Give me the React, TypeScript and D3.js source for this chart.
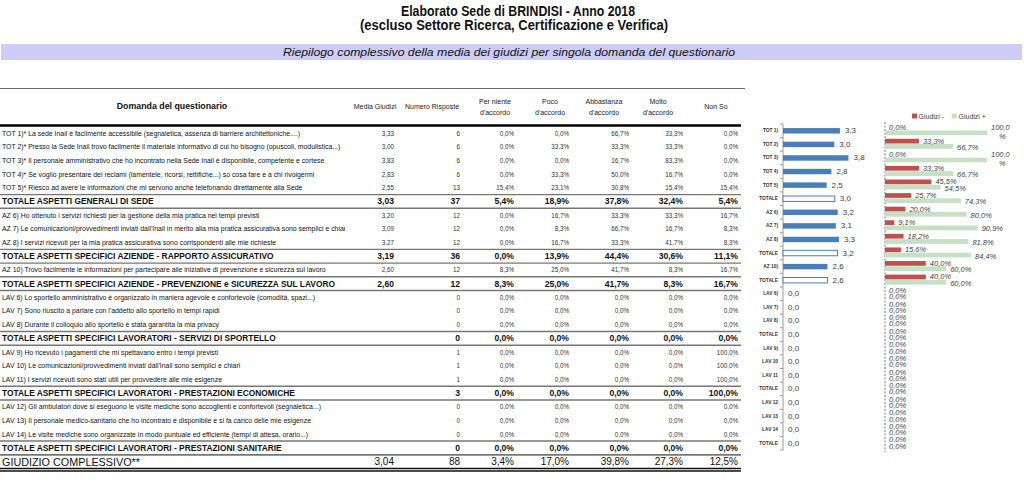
import React from "react";
import * as d3 from "d3";

const questions = [
  "TOT 1)* La sede Inail è facilmente accessibile (segnaletica, assenza di barriere architettoniche....)",
  "TOT 2)* Presso la Sede Inail trovo facilmente il materiale informativo di cui ho bisogno (opuscoli, modulistica...)",
  "TOT 3)* Il personale amministrativo che ho incontrato nella Sede Inail  è  disponibile, competente e cortese",
  "TOT 4)* Se voglio presentare dei reclami (lamentele, ricorsi, rettifiche...) so cosa fare e a chi rivolgermi",
  "TOT 5)* Riesco ad avere le informazioni che mi servono anche telefonando direttamente alla Sede",
  "TOTALE ASPETTI GENERALI DI SEDE",
  "AZ 6) Ho ottenuto i servizi richiesti per la gestione della mia pratica nei tempi previsti",
  "AZ 7) Le comunicazioni/provvedimenti inviati dall'Inail in merito alla mia pratica assicurativa sono semplici e chiari",
  "AZ 8) I servizi ricevuti per la mia pratica assicurativa sono corrispondenti alle mie richieste",
  "TOTALE ASPETTI SPECIFICI AZIENDE - RAPPORTO ASSICURATIVO",
  "AZ 10) Trovo facilmente le informazioni per partecipare alle iniziative di prevenzione e sicurezza sul lavoro",
  "TOTALE ASPETTI SPECIFICI AZIENDE - PREVENZIONE e SICUREZZA SUL LAVORO",
  "LAV 6) Lo sportello amministrativo è organizzato in maniera agevole e confortevole (comodità, spazi...)",
  "LAV 7) Sono riuscito a parlare con l'addetto allo sportello in tempi rapidi",
  "LAV 8) Durante il colloquio allo sportello è stata garantita la mia privacy",
  "TOTALE ASPETTI SPECIFICI LAVORATORI - SERVIZI DI SPORTELLO",
  "LAV 9) Ho ricevuto i pagamenti che mi spettavano entro i tempi previsti",
  "LAV 10) Le comunicazioni/provvedimenti inviati dall'Inail sono semplici e chiari",
  "LAV 11) I servizi ricevuti sono stati utili per provvedere alle mie esigenze",
  "TOTALE ASPETTI SPECIFICI LAVORATORI - PRESTAZIONI ECONOMICHE",
  "LAV 12) Gli ambulatori dove si eseguono le visite mediche sono accoglienti e confortevoli (segnaletica...)",
  "LAV 13) Il personale medico-sanitario che ho incontrato è disponibile e si fa carico delle mie esigenze",
  "LAV 14) Le visite mediche sono organizzate in modo puntuale ed efficiente (tempi di attesa, orario...)",
  "TOTALE ASPETTI SPECIFICI LAVORATORI - PRESTAZIONI SANITARIE",
  "GIUDIZIO COMPLESSIVO**",
];

const rowKind = [
  "q", "q", "q", "q", "q", "t",
  "q", "q", "q", "t",
  "q", "t",
  "q", "q", "q", "t",
  "q", "q", "q", "t",
  "q", "q", "q", "t",
  "g",
];

const mediaGiudizi = [
  "3,33", "3,00", "3,83", "2,83", "2,55", "3,03",
  "3,20", "3,09", "3,27", "3,19",
  "2,60", "2,60",
  "", "", "", "",
  "", "", "", "",
  "", "", "", "",
  "3,04",
];

const numeroRisposte = [6, 6, 6, 6, 13, 37, 12, 12, 12, 36, 12, 12, 0, 0, 0, 0, 1, 1, 1, 3, 0, 0, 0, 0, 88];
const perNiente = [0, 0, 0, 0, 15.4, 5.4, 0, 0, 0, 0, 8.3, 8.3, 0, 0, 0, 0, 0, 0, 0, 0, 0, 0, 0, 0, 3.4];
const poco = [0, 33.3, 0, 33.3, 23.1, 18.9, 16.7, 8.3, 16.7, 13.9, 25.0, 25.0, 0, 0, 0, 0, 0, 0, 0, 0, 0, 0, 0, 0, 17.0];
const abbastanza = [66.7, 33.3, 16.7, 50.0, 30.8, 37.8, 33.3, 66.7, 33.3, 44.4, 41.7, 41.7, 0, 0, 0, 0, 0, 0, 0, 0, 0, 0, 0, 0, 39.8];
const molto = [33.3, 33.3, 83.3, 16.7, 15.4, 32.4, 33.3, 16.7, 41.7, 30.6, 8.3, 8.3, 0, 0, 0, 0, 0, 0, 0, 0, 0, 0, 0, 0, 27.3];
const nonSo = [0, 0, 0, 0, 15.4, 5.4, 16.7, 8.3, 8.3, 11.1, 16.7, 16.7, 0, 0, 0, 0, 100, 100, 100, 100, 0, 0, 0, 0, 12.5];

const headers = [
  ["Media Giudizi"],
  ["Numero Risposte"],
  ["Per niente", "d'accordo"],
  ["Poco", "d'accordo"],
  ["Abbastanza", "d'accordo"],
  ["Molto", "d'accordo"],
  ["Non So"],
];

const chartCategories = [
  "TOT 1)", "TOT 2)", "TOT 3)", "TOT 4)", "TOT 5)", "TOTALE",
  "AZ 6)", "AZ 7)", "AZ 8)", "TOTALE",
  "AZ 10)", "TOTALE",
  "LAV 6)", "LAV 7)", "LAV 8)", "TOTALE",
  "LAV 9)", "LAV 10", "LAV 11", "TOTALE",
  "LAV 12", "LAV 13", "LAV 14", "TOTALE",
];
const chartMedia = [3.33, 3.0, 3.83, 2.83, 2.55, 3.03, 3.2, 3.09, 3.27, 3.19, 2.6, 2.6, 0, 0, 0, 0, 0, 0, 0, 0, 0, 0, 0, 0];
const giudiziNeg = [0, 33.3, 0, 33.3, 45.5, 25.7, 20.0, 9.1, 18.2, 15.6, 40.0, 40.0, 0, 0, 0, 0, 0, 0, 0, 0, 0, 0, 0, 0];
const giudiziPos = [100, 66.7, 100, 66.7, 54.5, 74.3, 80.0, 90.9, 81.8, 84.4, 60.0, 60.0, 0, 0, 0, 0, 0, 0, 0, 0, 0, 0, 0, 0];
const legendLabels = ["Giudizi -", "Giudizi +"];

const FONT = "'Liberation Sans', Arial, sans-serif";
const BLUE = "#4a7ebb";
const RED = "#c0504d";
const GREEN = "#c6e0c4";
const TXT = "#404040";

const fmt1 = (v: number) => d3.format(".1f")(v).replace(".", ",");
const pct = (v: number) => fmt1(v) + "%";

export default function App() {
  const W = 1024;
  const H = 488;
  const rowY = d3.scaleLinear().domain([0, questions.length - 1]).range([133, 461.6]);
  const rowH = 13.7;
  const tableRight = 741;
  const colRight = [394, 460, 514, 569, 629, 683, 738];
  const colHead = [375, 432, 495, 550, 604, 658, 716];

  const idx = d3.range(chartCategories.length);
  const yB = d3.scaleBand<number>().domain(idx).range([124, 450]).paddingInner(0.6).paddingOuter(0.3);
  const xL = d3.scaleLinear().domain([0, 5]).range([783, 868.5]);
  const xR = d3.scaleLinear().domain([0, 100]).range([885, 987]);
  const sub = d3.scaleBand<string>().domain(["neg", "pos"]).range([-5.6, 4.4]).paddingInner(0.1);
  const cy = (i: number) => (yB(i) as number) + yB.bandwidth() / 2;

  const totalIdx = rowKind.map((k, i) => (k !== "q" ? i : -1)).filter((i) => i >= 0);

  return (
    <svg width={W} height={H} style={{ position: "absolute", left: 0, top: 0, background: "#fff" }} fontFamily={FONT}>
      <defs>
        <clipPath id="qclip">
          <rect x={0} y={0} width={345} height={H} />
        </clipPath>
      </defs>
      {/* Titles */}
      <text x={518} y={16} textAnchor="middle" fontSize={14} fontWeight="bold" fill="#111" textLength={234} lengthAdjust="spacingAndGlyphs">
        Elaborato Sede di BRINDISI - Anno 2018
      </text>
      <text x={514} y={30} textAnchor="middle" fontSize={14} fontWeight="bold" fill="#111" textLength={308} lengthAdjust="spacingAndGlyphs">
        (escluso Settore Ricerca, Certificazione e Verifica)
      </text>
      <rect x={1} y={44} width={1021} height={16} fill="#ccccf6" />
      <text x={509} y={55.5} textAnchor="middle" fontSize={11} fontStyle="italic" fill="#111" textLength={452} lengthAdjust="spacingAndGlyphs">
        Riepilogo complessivo della media dei giudizi per singola domanda del questionario
      </text>
      <line x1={0} x2={745} y1={88.5} y2={88.5} stroke="#666" strokeWidth={1} />

      {/* Headers */}
      <text x={172} y={106} textAnchor="middle" dominantBaseline="central" fontSize={8.8} fontWeight="bold" fill="#111">
        Domanda del questionario
      </text>
      {headers.map((h, j) =>
        h.map((line, k) => (
          <text
            key={`h${j}-${k}`}
            x={colHead[j]}
            y={h.length === 1 ? 106 : 101 + k * 11}
            textAnchor="middle"
            dominantBaseline="central"
            fontSize={7}
            fill="#222"
          >
            {line}
          </text>
        ))
      )}
      <line x1={0} x2={tableRight} y1={125.5} y2={125.5} stroke="#000" strokeWidth={2.5} />

      {/* total row lines */}
      {totalIdx.map((i) => (
        <g key={`tl${i}`}>
          <line x1={0} x2={tableRight} y1={rowY(i) - rowH / 2} y2={rowY(i) - rowH / 2} stroke="#777" strokeWidth={1.4} />
          {rowKind[i] === "t" && (
            <line x1={0} x2={tableRight} y1={rowY(i) + rowH / 2} y2={rowY(i) + rowH / 2} stroke="#777" strokeWidth={1.4} />
          )}
        </g>
      ))}
      <line x1={0} x2={tableRight} y1={468.5} y2={468.5} stroke="#111" strokeWidth={1.5} />
      <line x1={0} x2={tableRight} y1={471} y2={471} stroke="#111" strokeWidth={1.5} />

      {/* rows */}
      {questions.map((q, i) => {
        const kind = rowKind[i];
        const y = rowY(i);
        const isQ = kind === "q";
        const fs = isQ ? 6.9 : kind === "t" ? 8.4 : 10.8;
        const nfs = isQ ? 6.3 : kind === "t" ? 8.6 : 10;
        const fw = kind === "t" ? "bold" : "normal";
        const vals = [
          mediaGiudizi[i],
          String(numeroRisposte[i]),
          pct(perNiente[i]),
          pct(poco[i]),
          pct(abbastanza[i]),
          pct(molto[i]),
          pct(nonSo[i]),
        ];
        return (
          <g key={`r${i}`}>
            <text
              x={2}
              y={y}
              dominantBaseline="central"
              fontSize={fs}
              fontWeight={fw}
              fill="#111"
              clipPath={isQ ? "url(#qclip)" : undefined}
            >
              {q}
            </text>
            {vals.map((v, j) => (
              <text
                key={`v${i}-${j}`}
                x={colRight[j]}
                y={y}
                textAnchor="end"
                dominantBaseline="central"
                fontSize={nfs}
                fontWeight={fw}
                fill={isQ ? "#333" : "#111"}
              >
                {v}
              </text>
            ))}
          </g>
        );
      })}

      {/* Left chart */}
      <line x1={783} x2={783} y1={124} y2={450} stroke="#9a9a9a" strokeWidth={1} />
      {d3.range(chartCategories.length + 1).map((k) => {
        const yy = 124 + (k * 326) / chartCategories.length;
        return <line key={`lt${k}`} x1={780} x2={783} y1={yy} y2={yy} stroke="#9a9a9a" strokeWidth={1} />;
      })}
      {chartCategories.map((c, i) => {
        const isTot = c === "TOTALE";
        const v = chartMedia[i];
        const y0 = yB(i) as number;
        return (
          <g key={`lb${i}`}>
            <text x={778} y={cy(i)} textAnchor="end" dominantBaseline="central" fontSize={4.8} fontWeight="bold" fill="#333">
              {c}
            </text>
            {v > 0 && (
              <rect
                x={xL(0)}
                y={y0}
                width={xL(v) - xL(0)}
                height={yB.bandwidth()}
                fill={isTot ? "#fff" : BLUE}
                stroke={isTot ? BLUE : "none"}
                strokeWidth={1}
              />
            )}
            <text x={xL(v) + 5} y={cy(i)} dominantBaseline="central" fontSize={8} fill={TXT}>
              {fmt1(v)}
            </text>
          </g>
        );
      })}

      {/* Right chart */}
      <line x1={885} x2={885} y1={122} y2={452} stroke="#777" strokeWidth={1} strokeDasharray="2,1.5" />
      {chartCategories.map((c, i) => {
        const c0 = cy(i);
        const yn = c0 + (sub("neg") as number);
        const yp = c0 + (sub("pos") as number);
        const bw = sub.bandwidth();
        const vn = giudiziNeg[i];
        const vp = giudiziPos[i];
        return (
          <g key={`rb${i}`}>
            {vp > 0 && <rect x={xR(0)} y={yp} width={xR(vp) - xR(0)} height={bw} fill={GREEN} />}
            {vn > 0 && <rect x={xR(0)} y={yn} width={xR(vn) - xR(0)} height={bw} fill={RED} />}
            <text x={xR(vn) + 4} y={yn + bw / 2} dominantBaseline="central" fontSize={7.5} fontStyle="italic" fill={TXT}>
              {pct(vn)}
            </text>
            {vp >= 100 ? (
              <text x={xR(vp) + 4} y={yn + bw / 2 - 1} fontSize={7.5} fontStyle="italic" fill={TXT} dominantBaseline="central">
                <tspan>{fmt1(vp)}</tspan>
                <tspan x={xR(vp) + 12} dy={9.5}>%</tspan>
              </text>
            ) : (
              <text x={xR(vp) + 4} y={yp + bw / 2 + 1} dominantBaseline="central" fontSize={7.5} fontStyle="italic" fill={TXT}>
                {pct(vp)}
              </text>
            )}
          </g>
        );
      })}
      {/* Legend */}
      {legendLabels.map((l, k) => (
        <g key={`lg${k}`} transform={`translate(${912 + k * 40},116)`}>
          <rect x={0} y={-2.5} width={5} height={5} fill={k === 0 ? RED : GREEN} />
          <text x={6.5} y={0} dominantBaseline="central" fontSize={7} fill={TXT}>
            {l}
          </text>
        </g>
      ))}
    </svg>
  );
}
